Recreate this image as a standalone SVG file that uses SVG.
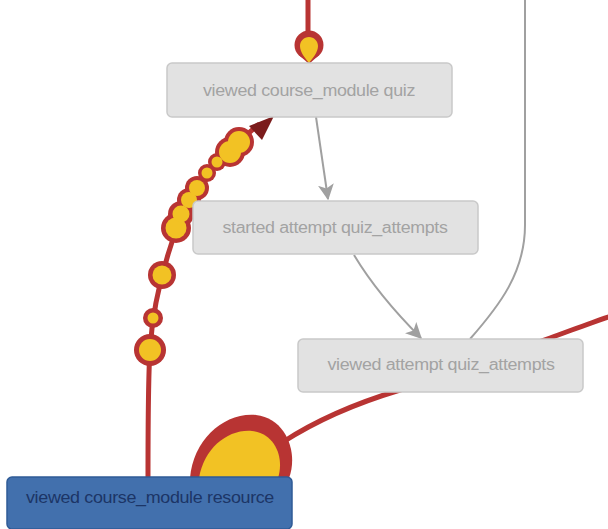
<svg xmlns="http://www.w3.org/2000/svg" width="608" height="529" viewBox="0 0 608 529">
<style>
.node rect{fill:#e2e2e2;stroke:#c9c9c9;stroke-width:1.5}
.node text{font-family:"Liberation Sans",Arial,sans-serif;font-size:16px;fill:#a3a3a3;text-anchor:middle;letter-spacing:-0.3px}
.blue rect{fill:#4270ad;stroke:#2f5b96;stroke-width:1.5}
.blue text{fill:#1c3566}
.grey{fill:none;stroke:#a0a0a0;stroke-width:2}
.red{fill:none;stroke:#b83433;stroke-width:5;stroke-linecap:round}
.ro{fill:#b83433}
.ye{fill:#f2c224}
</style>
<defs>
<marker id="gah" viewBox="0 0 12 12" refX="11" refY="6" markerWidth="16" markerHeight="16" orient="auto" markerUnits="userSpaceOnUse">
<path d="M0,0 L12,6 L0,12 L3,6 Z" fill="#a0a0a0"/>
</marker>
</defs>
<g id="connectors">
<path class="grey" d="M470,339 C500,305 525,272 525,225 L525,0"/>
<path class="grey" d="M316,117 L328,199" marker-end="url(#gah)"/>
<path class="grey" d="M354,255 C372,285 395,312 421,338" marker-end="url(#gah)"/>
<path class="red" d="M308,0 L308,40"/>
<path class="red" d="M283,442 C320,418 360,402 400,390 L550,338 C572,330 590,323 608,317"/>
<path class="red" d="M148,478 C148,420 148,380 150,350 C153,300 165,260 178,225 C190,192 215,160 258,125"/>
<polygon points="274,116 249,126 262,140" fill="#7b1c1c"/>
<!-- top bulb -->
<circle class="ro" cx="309" cy="45" r="14.5"/>
<path class="ro" d="M300,56 L309,64 L318,56 Z"/>
<path class="ye" d="M309,63 C305,58 300,52 300,46 C300,41 304,37 309,37 C314,37 318,41 318,46 C318,52 313,58 309,63 Z"/>
<!-- bottom bulb -->
<path class="ro" d="M190,478 C193,440 224,412 256,415 C288,419 298,455 289,478 Z"/>
<path class="ye" d="M199,478 C204,448 228,429 252,431 C277,434 284,460 278,478 Z"/>
<!-- bubbles outline -->
<g class="ro">
<circle cx="150" cy="350" r="16"/>
<circle cx="153" cy="318" r="10"/>
<circle cx="162" cy="275" r="14"/>
<circle cx="176" cy="228" r="15"/>
<circle cx="181" cy="214" r="13"/>
<circle cx="189" cy="200" r="12"/>
<circle cx="197" cy="188" r="12"/>
<circle cx="207" cy="173" r="9"/>
<circle cx="217" cy="162" r="9"/>
<circle cx="230" cy="152" r="15"/>
<circle cx="239" cy="142" r="15"/>
</g>
<g class="ye">
<circle cx="150" cy="350" r="11"/>
<circle cx="153" cy="318" r="5.5"/>
<circle cx="162" cy="275" r="9.5"/>
<circle cx="176" cy="228" r="10.5"/>
<circle cx="181" cy="214" r="8.5"/>
<circle cx="189" cy="200" r="8"/>
<circle cx="197" cy="188" r="8"/>
<circle cx="207" cy="173" r="5.5"/>
<circle cx="217" cy="162" r="5.5"/>
<circle cx="230" cy="152" r="11"/>
<circle cx="239" cy="142" r="11"/>
</g>
</g>
<g id="n-quiz" class="node">
<rect x="167" y="63" width="285" height="54" rx="5"/>
<text x="309" y="96" textLength="212" lengthAdjust="spacingAndGlyphs">viewed course_module quiz</text>
</g>
<g id="n-started" class="node">
<rect x="193" y="201" width="285" height="53" rx="5"/>
<text x="335" y="233" textLength="225" lengthAdjust="spacingAndGlyphs">started attempt quiz_attempts</text>
</g>
<g id="n-viewed-attempt" class="node">
<rect x="298" y="339" width="285" height="53" rx="5"/>
<text x="441" y="370" textLength="227" lengthAdjust="spacingAndGlyphs">viewed attempt quiz_attempts</text>
</g>
<g id="n-resource" class="node blue">
<rect x="7" y="477" width="285" height="52" rx="5"/>
<text x="150" y="503" textLength="248" lengthAdjust="spacingAndGlyphs">viewed course_module resource</text>
</g>
</svg>
